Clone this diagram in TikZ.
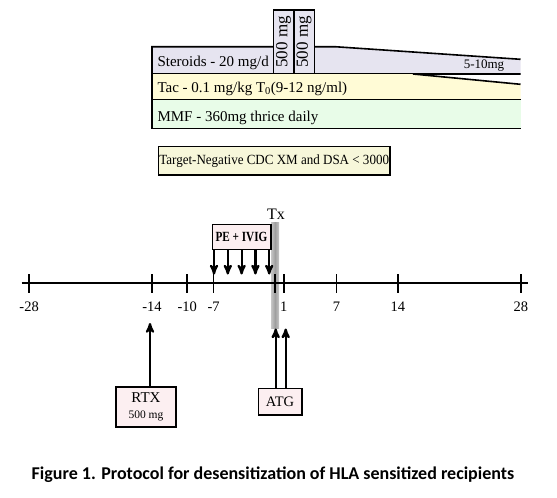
\documentclass[tikz,border=0pt]{standalone}
\usepackage{fontspec}
\setmainfont{Liberation Serif}
\newfontfamily\capfont{Carlito}
\usetikzlibrary{calc}
\usetikzlibrary{arrows,positioning}
\definecolor{steroidfill}{HTML}{E6E4F0}
\definecolor{tacfill}{HTML}{FFFBD6}
\definecolor{mmffill}{HTML}{E8FCE8}
\definecolor{targetfill}{HTML}{F7F7DA}
\definecolor{drugfill}{HTML}{FCEFF1}
\tikzset{
    %Define standard arrow tip
    >=stealth',
    %Define style for boxes
    drug/.style={
           rectangle,
           draw=black, line width=1.6pt,
           fill=drugfill,
           inner sep=0pt,
           align=center},
    %Define style for the 500 mg pulses
    pulse/.style={
           rectangle,
           draw=black, line width=1.6pt,
           fill=steroidfill,
           inner sep=0pt,
           rotate=90,
           minimum width=64pt,
           minimum height=20.5pt,
           font=\fontsize{17}{17}\selectfont},
    % text in the regimen rows
    zeile/.style={anchor=west, font=\fontsize{15}{17}\selectfont},
    % Define arrow style
    arw/.style={
           ->,
           line width=2.2pt},
    % regimen border lines
    rand/.style={line width=1.6pt},
}
\begin{document}
\begin{tikzpicture}[x=1pt,y=-1pt,font=\fontsize{13}{15}\selectfont]
\useasboundingbox (0,0) rectangle (557,498);

% Steroide
\fill[steroidfill] (152,46.7) -- (335,46.7) -- (520.5,59.3) -- (520.5,74) -- (152,74) -- cycle;
\draw[rand] (520.5,59.3) -- (335,46.7) -- (152,46.7) -- (152,74) -- (520.5,74);
\node[pulse] (pulse1) at (283.6,42) {500 mg};
\node[pulse] (pulse2) at (304.1,42) {500 mg};
\node[zeile] (steroid) at (154,62.5) {Steroids - 20 mg/d};
\node (taper) at (484,65.5) {5-10mg};

% Tacrolimus
\fill[tacfill] (152,74) -- (413,74) -- (520.5,84.3) -- (520.5,99.5) -- (152,99.5) -- cycle;
\draw[rand] (413,74) -- (520.5,84.3);
\draw[rand] (152,74) -- (152,99.5) -- (520.5,99.5);
\node[zeile] (tac) at (154,88.5) {Tac - 0.1 mg/kg T\textsubscript{0}(9-12 ng/ml)};

% MMF
\fill[mmffill] (152,99.5) rectangle (520.5,128.5);
\draw[rand] (152,99.5) -- (152,128.5) -- (520.5,128.5);
\node[zeile] (mmf) at (154,117.5) {MMF - 360mg thrice daily};

% Zielbox
\node[drug, fill=targetfill, minimum width=231.7pt, minimum height=28.3pt,
      font=\fontsize{14}{16}\selectfont\addfontfeatures{FakeStretch=0.93}] (target) at (274.2,160.8)
{Target-Negative CDC XM and DSA < 3000};

% Transplantation
\shade[left color=gray!45, right color=gray!45, middle color=gray!75] (271,222) rectangle (279,328);
\node[font=\fontsize{16}{18}\selectfont] (tx) at (276,214) {Tx};

% Zeitachse
\draw[line width=2.8pt] (21.5,283) -- (528,283);
\foreach \d in {-28,-14,-10,-7,0,1,7,14,28}{
  \coordinate (t\d) at ({275+8.78*\d},283);
  \draw[line width=1.6pt] ($(t\d)+(0,-9)$) -- ($(t\d)+(0,10)$);
}
\foreach \d in {-28,-14,-10,-7,1,7,14,28}
  \node[font=\fontsize{14.5}{16}\selectfont] (l\d) at ($(t\d)+(0,24)$) {\d};

% PE + IVIG
\node[drug, minimum width=58.4pt, minimum height=25pt,
      font=\fontsize{14}{15}\selectfont\bfseries\addfontfeatures{FakeStretch=0.8}] (pe) at (241.5,236.8) {PE + IVIG};
\foreach \i/\x in {1/214,2/227.8,3/241.6,4/255.4,5/269.2}{
  \coordinate (pe\i) at (\x,274.5);
  \draw[arw] (pe.south -| pe\i) -- (pe\i);
}

% RTX
\node[drug, minimum width=60pt, minimum height=40pt] (rtx) at (146,406.7)
{\fontsize{15}{15}\selectfont RTX\\[1pt]{\fontsize{11.5}{12}\selectfont 500 mg}};
\coordinate (rtxend) at (150,323);
\draw[arw] (rtx.north -| rtxend) -- (rtxend);

% ATG
\node[drug, minimum width=43.4pt, minimum height=26.7pt, font=\fontsize{14.5}{15}\selectfont] (atg) at (280,401.7) {ATG};
\coordinate (atg1) at (275.7,328.5);
\coordinate (atg2) at (285.7,328.5);
\draw[arw] (atg.north -| atg1) -- (atg1);
\draw[arw] (atg.north -| atg2) -- (atg2);

% Bildunterschrift
\node[font=\capfont\bfseries\fontsize{18}{20}\selectfont] (caption) at (273,475)
{Figure 1. Protocol for desensitization of HLA sensitized recipients};
\end{tikzpicture}
\end{document}
